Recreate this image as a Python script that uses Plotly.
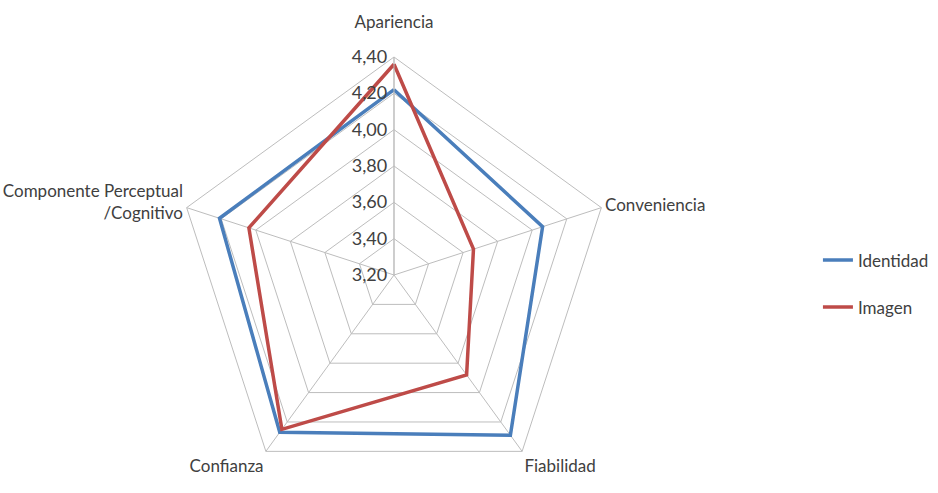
import plotly.graph_objects as go

categories = ["Apariencia", "Conveniencia", "Fiabilidad", "Confianza", "Componente Perceptual<br>/Cognitivo"]
category_labels = ["Apariencia<br> ", "Conveniencia", "Fiabilidad", "Confianza", "Componente Perceptual<br>/Cognitivo"]
identidad = [4.22, 4.06, 4.29, 4.27, 4.21]
imagen = [4.36, 3.66, 3.88, 4.25, 4.04]
tick_vals = [3.20, 3.40, 3.60, 3.80, 4.00, 4.20, 4.40]

BLUE = "#4A7EBB"
RED = "#BE4B48"
GRID = "#BDBDBD"
FONT = "Lato"

fig = go.Figure()
fig.add_trace(go.Scatterpolar(
    r=identidad + identidad[:1], theta=categories + categories[:1],
    mode="lines", name="Identidad", line=dict(color=BLUE, width=3.5),
    legendgroup="a"))
fig.add_trace(go.Scatterpolar(
    r=imagen + imagen[:1], theta=categories + categories[:1],
    mode="lines", name="Imagen", line=dict(color=RED, width=3.5),
    legendgroup="b"))

W, H = 938, 493
cx, cy, R = 394, 275, 218
fig.update_layout(
    width=W, height=H,
    margin=dict(l=0, r=0, t=0, b=0),
    paper_bgcolor="white", plot_bgcolor="white",
    separators=",.",
    font=dict(family=FONT, size=17, color="#404040"),
    polar=dict(
        domain=dict(x=[(cx - R) / W, (cx + R) / W],
                    y=[(H - cy - R) / H, (H - cy + R) / H]),
        bgcolor="white",
        gridshape="linear",
        radialaxis=dict(
            range=[3.2, 4.4], tickvals=tick_vals, tickformat=".2f",
            angle=90, tickangle=90, side="counterclockwise", ticks="",
            showline=True, linecolor=GRID, linewidth=1,
            gridcolor=GRID, gridwidth=1,
            tickfont=dict(family=FONT, size=18, color="#404040"),
        ),
        angularaxis=dict(
            direction="clockwise", rotation=90,
            tickvals=categories, ticktext=category_labels,
            showline=True, linecolor=GRID, linewidth=1,
            gridcolor=GRID, gridwidth=1, ticks="",
            tickfont=dict(family=FONT, size=17, color="#404040"),
        ),
    ),
    legend=dict(x=0.872, y=0.424, xanchor="left", yanchor="middle",
                tracegroupgap=22, font=dict(family=FONT, size=17, color="#404040"),
                itemwidth=30, bgcolor="rgba(0,0,0,0)"),
)

fig.write_html("out.html")
